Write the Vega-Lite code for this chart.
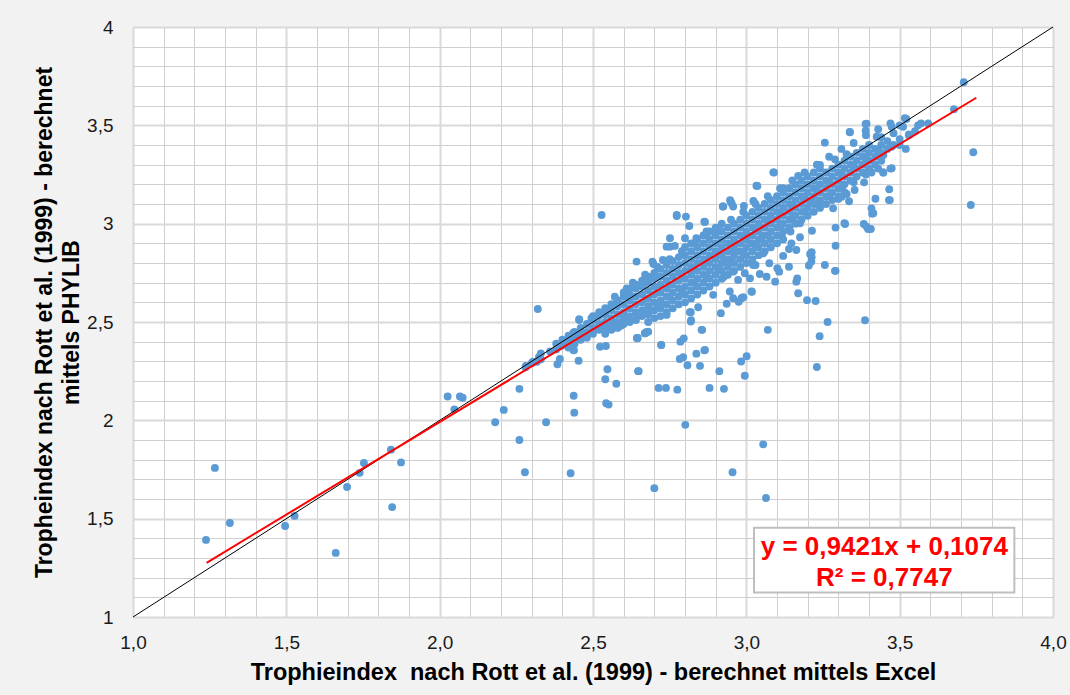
{
  "$schema": "https://vega.github.io/schema/vega-lite/v6.json",
  "autosize": {"type": "none"},
  "width": 920,
  "height": 590,
  "padding": {"left": 133, "top": 27, "right": 17, "bottom": 78},
  "background": "#f2f2f2",
  "config": {
    "view": {"fill": "white", "stroke": "#d0d0d0"},
    "font": "Liberation Sans"
  },
  "datasets": {
    "pts": [
      {"x":1.238,"y":1.392},{"x":1.267,"y":1.758},{"x":1.316,"y":1.478},{"x":1.496,"y":1.463},{"x":1.527,"y":1.514},{"x":1.661,"y":1.326},{"x":1.698,"y":1.661},{"x":1.739,"y":1.733},{"x":1.753,"y":1.783},{"x":1.841,"y":1.851},{"x":1.845,"y":1.559},{"x":1.874,"y":1.786},
      {"x":2.048,"y":2.056},{"x":2.026,"y":2.121},{"x":2.066,"y":2.121},{"x":2.075,"y":2.115},{"x":2.181,"y":1.99},{"x":2.209,"y":2.053},{"x":2.26,"y":2.16},{"x":2.26,"y":1.9},{"x":2.278,"y":1.736},{"x":2.32,"y":2.566},
      {"x":2.281,"y":2.276},{"x":2.304,"y":2.298},{"x":2.317,"y":2.298},{"x":2.324,"y":2.322},{"x":2.347,"y":1.99},{"x":2.384,"y":2.285},{"x":2.392,"y":2.312},{"x":2.39,"y":2.374},{"x":2.403,"y":2.392},{"x":2.414,"y":2.4},
      {"x":2.437,"y":2.125},{"x":2.439,"y":2.039},{"x":2.427,"y":1.731},{"x":2.438,"y":2.356},{"x":2.453,"y":2.303},{"x":2.458,"y":2.412},{"x":2.436,"y":2.446},{"x":2.455,"y":2.51},{"x":2.523,"y":2.374},{"x":2.542,"y":2.378},{"x":2.528,"y":2.468},
      {"x":2.547,"y":2.26},{"x":2.54,"y":2.209},{"x":2.543,"y":2.087},{"x":2.551,"y":2.08},{"x":2.576,"y":2.186},{"x":2.59,"y":2.483},{"x":2.643,"y":2.419},{"x":2.647,"y":2.25},{"x":2.528,"y":3.044},
      {"x":2.642,"y":2.807},{"x":2.694,"y":2.807},{"x":2.728,"y":2.815},{"x":2.751,"y":2.883},{"x":2.773,"y":3.044},{"x":2.803,"y":3.036},{"x":2.80,"y":2.926},{"x":2.863,"y":3.01},{"x":2.925,"y":3.087},{"x":2.952,"y":3.104},{"x":3.033,"y":3.193},
      {"x":2.74,"y":2.883},{"x":2.767,"y":2.887},{"x":2.837,"y":2.926},{"x":2.87,"y":2.96},{"x":2.903,"y":2.968},{"x":2.455,"y":2.514},{"x":2.495,"y":2.519},{"x":2.571,"y":2.629},{"x":2.61,"y":2.671},{"x":2.675,"y":2.73},
      {"x":2.436,"y":2.358},{"x":2.591,"y":2.481},{"x":2.644,"y":2.417},{"x":2.67,"y":2.443},{"x":2.68,"y":2.451},{"x":2.722,"y":2.383},{"x":2.74,"y":2.536},{"x":2.785,"y":2.4},{"x":2.796,"y":2.417},{"x":2.819,"y":2.55},{"x":2.819,"y":2.502},
      {"x":2.856,"y":2.46},{"x":2.865,"y":2.358},{"x":2.917,"y":2.545},{"x":2.957,"y":2.621},{"x":2.984,"y":2.621},{"x":3.017,"y":2.655},{"x":3.022,"y":2.79},{"x":2.973,"y":2.714},{"x":2.946,"y":2.655},{"x":2.892,"y":2.638},{"x":2.718,"y":2.578},{"x":2.686,"y":2.561},{"x":2.642,"y":2.544},
      {"x":3.389,"y":3.507},{"x":3.389,"y":3.473},{"x":3.338,"y":3.465},{"x":3.256,"y":3.412},{"x":3.088,"y":3.261},{"x":3.036,"y":3.192},{"x":2.923,"y":3.087},{"x":2.949,"y":3.112},{"x":2.992,"y":3.09},{"x":3.023,"y":3.115},{"x":3.12,"y":3.18},{"x":3.169,"y":3.243},{"x":3.24,"y":3.298},{"x":3.289,"y":3.327},{"x":3.327,"y":3.353},{"x":3.425,"y":3.442},{"x":3.474,"y":3.493},{"x":3.517,"y":3.536},{"x":3.511,"y":3.493},
      {"x":3.53,"y":3.454},{"x":3.474,"y":3.391},{"x":3.447,"y":3.349},{"x":3.474,"y":3.282},{"x":3.447,"y":3.26},{"x":3.408,"y":3.26},{"x":3.466,"y":3.175},{"x":3.468,"y":3.12},{"x":3.421,"y":3.127},{"x":3.408,"y":3.078},{"x":3.414,"y":3.053},{"x":3.383,"y":2.998},{"x":3.397,"y":2.973},{"x":3.32,"y":3.002},{"x":3.291,"y":2.98},{"x":3.291,"y":2.888},{"x":3.291,"y":2.76},
      {"x":3.384,"y":3.21},{"x":3.353,"y":3.171},{"x":3.327,"y":3.151},{"x":3.3,"y":3.126},{"x":3.283,"y":3.078},{"x":3.24,"y":3.087},{"x":3.208,"y":3.112},{"x":3.153,"y":3.039},{"x":3.175,"y":3.002},{"x":3.144,"y":2.96},{"x":3.175,"y":2.931},{"x":3.147,"y":2.9},{"x":3.139,"y":2.871},{"x":3.163,"y":2.866},{"x":3.12,"y":2.836},{"x":3.208,"y":2.846},{"x":3.212,"y":2.807},{"x":3.204,"y":2.787},{"x":3.256,"y":2.79},{"x":3.289,"y":2.76},
      {"x":3.139,"y":2.781},{"x":3.101,"y":2.773},{"x":3.075,"y":2.799},{"x":3.055,"y":2.849},{"x":3.03,"y":2.79},{"x":3.107,"y":2.756},{"x":3.044,"y":2.744},{"x":3.066,"y":2.73},{"x":3.012,"y":2.722},{"x":3.166,"y":2.722},{"x":3.116,"y":2.935},{"x":3.11,"y":2.985},{"x":3.053,"y":2.935},{"x":3.017,"y":2.9},{"x":2.957,"y":2.866},{"x":2.93,"y":2.815},{"x":2.957,"y":2.756},{"x":2.995,"y":2.748},{"x":2.927,"y":2.73},
      {"x":3.709,"y":3.719},{"x":3.677,"y":3.582},{"x":3.74,"y":3.363},{"x":3.732,"y":3.095},{"x":3.593,"y":3.51},{"x":3.522,"y":3.532},{"x":3.392,"y":3.508},{"x":3.337,"y":3.466},{"x":3.465,"y":3.12},{"x":3.41,"y":3.051},{"x":3.392,"y":2.985},{"x":3.406,"y":2.973},{"x":3.322,"y":2.998},{"x":3.213,"y":2.855},{"x":3.213,"y":2.829},{"x":3.446,"y":3.26},{"x":3.47,"y":3.28},{"x":3.335,"y":3.114},{"x":3.311,"y":3.137},{"x":3.214,"y":2.964},
      {"x":2.646,"y":2.419},{"x":2.649,"y":2.25},{"x":2.675,"y":2.449},{"x":2.669,"y":2.443},{"x":2.723,"y":2.383},{"x":2.714,"y":2.165},{"x":2.738,"y":2.165},{"x":2.775,"y":2.156},{"x":2.7,"y":1.655},{"x":2.783,"y":2.312},{"x":2.794,"y":2.321},{"x":2.808,"y":2.28},{"x":2.837,"y":2.339},{"x":2.849,"y":2.277},{"x":2.863,"y":2.356},{"x":2.801,"y":1.977},{"x":2.854,"y":2.46},{"x":2.816,"y":2.55},{"x":2.82,"y":2.509},{"x":2.843,"y":2.575},
      {"x":2.88,"y":2.165},{"x":2.912,"y":2.25},{"x":2.927,"y":2.16},{"x":2.936,"y":2.593},{"x":2.955,"y":1.736},{"x":2.983,"y":2.299},{"x":3.001,"y":2.326},{"x":2.995,"y":2.227},{"x":3.055,"y":1.878},{"x":3.064,"y":1.605},{"x":3.07,"y":2.46},{"x":3.018,"y":2.654},{"x":2.975,"y":2.603},{"x":2.99,"y":2.626},{"x":3.169,"y":2.646},{"x":3.198,"y":2.611},{"x":3.226,"y":2.607},{"x":3.265,"y":2.5},{"x":3.239,"y":2.428},{"x":3.23,"y":2.271},{"x":3.387,"y":2.509},{"x":3.163,"y":2.705},{"x":3.094,"y":2.705},
      {"x":3.09,"y":3.26},{"x":2.773,"y":3.039},{"x":2.814,"y":2.988},{"x":2.865,"y":3.009},{"x":2.751,"y":2.926},{"x":2.697,"y":2.795},{"x":2.957,"y":3.087},{"x":2.947,"y":3.12},{"x":3.53,"y":3.45},{"x":3.50,"y":3.40},{"x":3.55,"y":3.47},{"x":3.56,"y":3.50},{"x":3.52,"y":3.38},{"x":3.57,"y":3.51},
      {"x":2.63,"y":2.70},{"x":2.67,"y":2.74},{"x":2.71,"y":2.78},{"x":2.75,"y":2.82},{"x":2.79,"y":2.86},{"x":2.83,"y":2.90},{"x":2.87,"y":2.94},{"x":2.91,"y":2.98},{"x":2.95,"y":3.02},{"x":2.99,"y":3.06},{"x":3.03,"y":3.10},{"x":3.07,"y":3.14},{"x":3.11,"y":3.18},{"x":3.15,"y":3.22},{"x":3.19,"y":3.26},{"x":3.23,"y":3.30},{"x":3.27,"y":3.34},{"x":3.31,"y":3.38},{"x":3.35,"y":3.41},{"x":3.39,"y":3.45},{"x":3.43,"y":3.48},{"x":3.47,"y":3.51},
      {"x":2.71,"y":2.65},{"x":2.71,"y":2.59},{"x":2.75,"y":2.69},{"x":2.75,"y":2.63},{"x":2.79,"y":2.73},{"x":2.79,"y":2.66},{"x":2.83,"y":2.77},{"x":2.83,"y":2.70},{"x":2.87,"y":2.81},{"x":2.87,"y":2.73},{"x":2.91,"y":2.85},{"x":2.91,"y":2.77},{"x":2.95,"y":2.89},{"x":2.95,"y":2.81},{"x":2.99,"y":2.93},{"x":2.99,"y":2.85},
      {"x":3.03,"y":2.97},{"x":3.03,"y":2.89},{"x":3.07,"y":3.01},{"x":3.07,"y":2.94},{"x":3.11,"y":3.05},{"x":3.11,"y":2.98},{"x":3.15,"y":3.09},{"x":3.15,"y":3.02},{"x":3.19,"y":3.13},{"x":3.19,"y":3.06},{"x":3.23,"y":3.17},{"x":3.23,"y":3.10},{"x":3.27,"y":3.21},{"x":3.27,"y":3.14},{"x":3.31,"y":3.25},{"x":3.31,"y":3.18},{"x":3.35,"y":3.29},{"x":3.35,"y":3.21},{"x":3.39,"y":3.33},{"x":3.39,"y":3.25},{"x":3.43,"y":3.37},{"x":3.43,"y":3.28},
      {"x":2.28,"y":2.27},{"x":2.30,"y":2.29},{"x":2.33,"y":2.31},{"x":2.33,"y":2.34},{"x":2.36,"y":2.35},{"x":2.38,"y":2.36},{"x":2.38,"y":2.39},{"x":2.40,"y":2.38},{"x":2.40,"y":2.41},
      {"x":2.42,"y":2.40},{"x":2.42,"y":2.43},{"x":2.42,"y":2.37},{"x":2.44,"y":2.42},{"x":2.44,"y":2.45},{"x":2.44,"y":2.39},{"x":2.46,"y":2.44},{"x":2.46,"y":2.47},{"x":2.46,"y":2.41},{"x":2.48,"y":2.45},{"x":2.48,"y":2.49},{"x":2.48,"y":2.42},
      {"x":2.50,"y":2.47},{"x":2.50,"y":2.51},{"x":2.50,"y":2.44},{"x":2.50,"y":2.53},{"x":2.52,"y":2.49},{"x":2.52,"y":2.53},{"x":2.52,"y":2.46},{"x":2.52,"y":2.55},
      {"x":2.54,"y":2.50},{"x":2.54,"y":2.54},{"x":2.54,"y":2.47},{"x":2.54,"y":2.57},{"x":2.54,"y":2.44},{"x":2.56,"y":2.52},{"x":2.56,"y":2.56},{"x":2.56,"y":2.49},{"x":2.56,"y":2.59},{"x":2.56,"y":2.46},
      {"x":2.58,"y":2.54},{"x":2.58,"y":2.58},{"x":2.58,"y":2.50},{"x":2.58,"y":2.61},{"x":2.58,"y":2.47},
      {"x":2.60,"y":2.55},{"x":2.60,"y":2.59},{"x":2.60,"y":2.52},{"x":2.60,"y":2.63},{"x":2.60,"y":2.49},{"x":2.60,"y":2.65},
      {"x":2.62,"y":2.57},{"x":2.62,"y":2.61},{"x":2.62,"y":2.53},{"x":2.62,"y":2.64},{"x":2.62,"y":2.50},{"x":2.62,"y":2.67},
      {"x":2.64,"y":2.59},{"x":2.64,"y":2.63},{"x":2.64,"y":2.55},{"x":2.64,"y":2.67},{"x":2.64,"y":2.51},{"x":2.64,"y":2.69},
      {"x":2.66,"y":2.60},{"x":2.66,"y":2.64},{"x":2.66,"y":2.56},{"x":2.66,"y":2.68},{"x":2.66,"y":2.53},{"x":2.66,"y":2.71},
      {"x":2.68,"y":2.62},{"x":2.68,"y":2.66},{"x":2.68,"y":2.58},{"x":2.68,"y":2.70},{"x":2.68,"y":2.54},{"x":2.68,"y":2.73},{"x":2.68,"y":2.50},
      {"x":2.70,"y":2.64},{"x":2.70,"y":2.68},{"x":2.70,"y":2.60},{"x":2.70,"y":2.72},{"x":2.70,"y":2.56},{"x":2.70,"y":2.75},{"x":2.70,"y":2.52},
      {"x":2.72,"y":2.65},{"x":2.72,"y":2.69},{"x":2.72,"y":2.61},{"x":2.72,"y":2.73},{"x":2.72,"y":2.57},{"x":2.72,"y":2.77},{"x":2.72,"y":2.53},
      {"x":2.74,"y":2.67},{"x":2.74,"y":2.71},{"x":2.74,"y":2.63},{"x":2.74,"y":2.75},{"x":2.74,"y":2.59},{"x":2.74,"y":2.79},{"x":2.74,"y":2.55},
      {"x":2.76,"y":2.69},{"x":2.76,"y":2.73},{"x":2.76,"y":2.65},{"x":2.76,"y":2.77},{"x":2.76,"y":2.61},{"x":2.76,"y":2.81},{"x":2.76,"y":2.57},
      {"x":2.78,"y":2.71},{"x":2.78,"y":2.75},{"x":2.78,"y":2.67},{"x":2.78,"y":2.79},{"x":2.78,"y":2.63},{"x":2.78,"y":2.83},{"x":2.78,"y":2.59},
      {"x":2.80,"y":2.72},{"x":2.80,"y":2.76},{"x":2.80,"y":2.68},{"x":2.80,"y":2.80},{"x":2.80,"y":2.64},{"x":2.80,"y":2.84},{"x":2.80,"y":2.60},{"x":2.80,"y":2.88},
      {"x":2.82,"y":2.74},{"x":2.82,"y":2.78},{"x":2.82,"y":2.70},{"x":2.82,"y":2.82},{"x":2.82,"y":2.66},{"x":2.82,"y":2.86},{"x":2.82,"y":2.62},{"x":2.82,"y":2.90},
      {"x":2.84,"y":2.76},{"x":2.84,"y":2.80},{"x":2.84,"y":2.72},{"x":2.84,"y":2.84},{"x":2.84,"y":2.68},{"x":2.84,"y":2.88},{"x":2.84,"y":2.64},{"x":2.84,"y":2.92},
      {"x":2.86,"y":2.78},{"x":2.86,"y":2.82},{"x":2.86,"y":2.74},{"x":2.86,"y":2.86},{"x":2.86,"y":2.70},{"x":2.86,"y":2.90},{"x":2.86,"y":2.66},{"x":2.86,"y":2.94},
      {"x":2.88,"y":2.80},{"x":2.88,"y":2.84},{"x":2.88,"y":2.76},{"x":2.88,"y":2.88},{"x":2.88,"y":2.72},{"x":2.88,"y":2.92},{"x":2.88,"y":2.68},{"x":2.88,"y":2.96},
      {"x":2.90,"y":2.82},{"x":2.90,"y":2.86},{"x":2.90,"y":2.78},{"x":2.90,"y":2.90},{"x":2.90,"y":2.74},{"x":2.90,"y":2.94},{"x":2.90,"y":2.70},{"x":2.90,"y":2.98},
      {"x":2.92,"y":2.84},{"x":2.92,"y":2.88},{"x":2.92,"y":2.80},{"x":2.92,"y":2.92},{"x":2.92,"y":2.76},{"x":2.92,"y":2.96},{"x":2.92,"y":2.72},{"x":2.92,"y":3.00},
      {"x":2.94,"y":2.86},{"x":2.94,"y":2.90},{"x":2.94,"y":2.82},{"x":2.94,"y":2.94},{"x":2.94,"y":2.78},{"x":2.94,"y":2.98},{"x":2.94,"y":2.74},
      {"x":2.96,"y":2.88},{"x":2.96,"y":2.92},{"x":2.96,"y":2.84},{"x":2.96,"y":2.96},{"x":2.96,"y":2.80},{"x":2.96,"y":3.00},{"x":2.96,"y":2.76},
      {"x":2.98,"y":2.90},{"x":2.98,"y":2.94},{"x":2.98,"y":2.86},{"x":2.98,"y":2.98},{"x":2.98,"y":2.82},{"x":2.98,"y":3.02},{"x":2.98,"y":2.78},
      {"x":3.00,"y":2.92},{"x":3.00,"y":2.96},{"x":3.00,"y":2.88},{"x":3.00,"y":3.00},{"x":3.00,"y":2.84},{"x":3.00,"y":3.04},{"x":3.00,"y":2.80},
      {"x":3.02,"y":2.94},{"x":3.02,"y":2.98},{"x":3.02,"y":2.90},{"x":3.02,"y":3.02},{"x":3.02,"y":2.86},{"x":3.02,"y":3.06},{"x":3.02,"y":2.82},
      {"x":3.04,"y":2.96},{"x":3.04,"y":3.00},{"x":3.04,"y":2.92},{"x":3.04,"y":3.04},{"x":3.04,"y":2.88},{"x":3.04,"y":3.08},{"x":3.04,"y":2.84},
      {"x":3.06,"y":2.98},{"x":3.06,"y":3.02},{"x":3.06,"y":2.94},{"x":3.06,"y":3.06},{"x":3.06,"y":2.90},{"x":3.06,"y":3.10},{"x":3.06,"y":2.86},
      {"x":3.08,"y":3.00},{"x":3.08,"y":3.04},{"x":3.08,"y":2.96},{"x":3.08,"y":3.08},{"x":3.08,"y":2.92},{"x":3.08,"y":3.12},{"x":3.08,"y":2.88},
      {"x":3.10,"y":3.02},{"x":3.10,"y":3.06},{"x":3.10,"y":2.98},{"x":3.10,"y":3.10},{"x":3.10,"y":2.94},{"x":3.10,"y":3.14},{"x":3.10,"y":2.90},
      {"x":3.12,"y":3.04},{"x":3.12,"y":3.08},{"x":3.12,"y":3.00},{"x":3.12,"y":3.12},{"x":3.12,"y":2.96},{"x":3.12,"y":3.16},{"x":3.12,"y":2.92},
      {"x":3.14,"y":3.06},{"x":3.14,"y":3.10},{"x":3.14,"y":3.02},{"x":3.14,"y":3.14},{"x":3.14,"y":2.98},{"x":3.14,"y":3.18},
      {"x":3.16,"y":3.08},{"x":3.16,"y":3.12},{"x":3.16,"y":3.04},{"x":3.16,"y":3.16},{"x":3.16,"y":3.00},{"x":3.16,"y":3.20},
      {"x":3.18,"y":3.10},{"x":3.18,"y":3.14},{"x":3.18,"y":3.06},{"x":3.18,"y":3.18},{"x":3.18,"y":3.02},{"x":3.18,"y":3.22},
      {"x":3.20,"y":3.12},{"x":3.20,"y":3.16},{"x":3.20,"y":3.08},{"x":3.20,"y":3.20},{"x":3.20,"y":3.04},{"x":3.20,"y":3.24},
      {"x":3.22,"y":3.14},{"x":3.22,"y":3.18},{"x":3.22,"y":3.10},{"x":3.22,"y":3.22},{"x":3.22,"y":3.06},{"x":3.22,"y":3.26},
      {"x":3.24,"y":3.16},{"x":3.24,"y":3.20},{"x":3.24,"y":3.12},{"x":3.24,"y":3.24},{"x":3.24,"y":3.08},{"x":3.24,"y":3.28},
      {"x":3.26,"y":3.18},{"x":3.26,"y":3.22},{"x":3.26,"y":3.14},{"x":3.26,"y":3.26},{"x":3.26,"y":3.10},
      {"x":3.28,"y":3.20},{"x":3.28,"y":3.24},{"x":3.28,"y":3.16},{"x":3.28,"y":3.28},{"x":3.28,"y":3.12},
      {"x":3.30,"y":3.22},{"x":3.30,"y":3.26},{"x":3.30,"y":3.18},{"x":3.30,"y":3.30},{"x":3.30,"y":3.14},
      {"x":3.32,"y":3.24},{"x":3.32,"y":3.28},{"x":3.32,"y":3.20},{"x":3.32,"y":3.32},{"x":3.32,"y":3.16},
      {"x":3.34,"y":3.26},{"x":3.34,"y":3.30},{"x":3.34,"y":3.22},{"x":3.34,"y":3.34},
      {"x":3.36,"y":3.28},{"x":3.36,"y":3.32},{"x":3.36,"y":3.24},{"x":3.36,"y":3.36},
      {"x":3.38,"y":3.30},{"x":3.38,"y":3.34},{"x":3.38,"y":3.26},{"x":3.38,"y":3.38},
      {"x":3.40,"y":3.32},{"x":3.40,"y":3.36},{"x":3.40,"y":3.28},{"x":3.40,"y":3.40},
      {"x":3.42,"y":3.34},{"x":3.42,"y":3.38},{"x":3.42,"y":3.30},
      {"x":3.44,"y":3.36},{"x":3.44,"y":3.40},{"x":3.44,"y":3.32},{"x":3.44,"y":3.44},
      {"x":3.46,"y":3.38},{"x":3.46,"y":3.42},{"x":3.48,"y":3.40},{"x":3.48,"y":3.46},{"x":3.50,"y":3.43},{"x":3.50,"y":3.50}
    ],
    "diag": [{"x": 1, "y": 1}, {"x": 4, "y": 4}],
    "fit": [{"x": 1.24, "y": 1.2756}, {"x": 3.75, "y": 3.6403}]
  },
  "layer": [
    {
      "encoding": {
        "x": {
          "field": "x", "type": "quantitative",
          "scale": {"domain": [1, 4], "nice": false, "zero": false},
          "axis": {
            "title": "Trophieindex\u00a0 nach Rott et al. (1999) - berechnet mittels Excel",
            "titleFont": "Liberation Sans", "titleFontSize": 23.5, "titleFontWeight": "bold", "titleColor": "#000000",
            "titleY": 62, "titleBaseline": "alphabetic",
            "values": [1,1.1,1.2,1.3,1.4,1.5,1.6,1.7,1.8,1.9,2,2.1,2.2,2.3,2.4,2.5,2.6,2.7,2.8,2.9,3,3.1,3.2,3.3,3.4,3.5,3.6,3.7,3.8,3.9,4],
            "labelExpr": "abs(datum.value*2 - round(datum.value*2)) < 0.001 ? replace(format(datum.value, '.1f'), '.', ',') : ''",
            "labelFont": "Liberation Sans", "labelFontSize": 19, "labelColor": "#1a1a1a",
            "labelPadding": 16, "labelFlush": false, "labelOverlap": false,
            "ticks": false, "tickSize": 0, "domain": false,
            "grid": true,
            "gridColor": {"condition": {"test": "abs(datum.value*2 - round(datum.value*2)) < 0.001", "value": "#d9d9d9"}, "value": "#cfcfcf"},
            "gridWidth": {"condition": {"test": "abs(datum.value*2 - round(datum.value*2)) < 0.001", "value": 2}, "value": 1}
          }
        },
        "y": {
          "field": "y", "type": "quantitative",
          "scale": {"domain": [1, 4], "nice": false, "zero": false},
          "axis": {
            "title": ["Tropheindex nach Rott et al. (1999) - berechnet", "mittels PHYLIB"],
            "titleFont": "Liberation Sans", "titleFontSize": 23, "titleFontWeight": "bold", "titleColor": "#000000",
            "titleX": -82, "titleBaseline": "alphabetic", "titleLineHeight": 27,
            "values": [1,1.1,1.2,1.3,1.4,1.5,1.6,1.7,1.8,1.9,2,2.1,2.2,2.3,2.4,2.5,2.6,2.7,2.8,2.9,3,3.1,3.2,3.3,3.4,3.5,3.6,3.7,3.8,3.9,4],
            "labelExpr": "abs(datum.value*2 - round(datum.value*2)) < 0.001 ? replace(format(datum.value, '.1~f'), '.', ',') : ''",
            "labelFont": "Liberation Sans", "labelFontSize": 19, "labelColor": "#1a1a1a",
            "labelPadding": 20, "labelFlush": false, "labelOverlap": false,
            "ticks": false, "tickSize": 0, "domain": false,
            "grid": true,
            "gridColor": {"condition": {"test": "abs(datum.value*2 - round(datum.value*2)) < 0.001", "value": "#d9d9d9"}, "value": "#cfcfcf"},
            "gridWidth": {"condition": {"test": "abs(datum.value*2 - round(datum.value*2)) < 0.001", "value": 2}, "value": 1}
          }
        }
      },
      "layer": [
        {
          "data": {"name": "pts"},
          "mark": {"type": "circle", "size": 62, "color": "#5B9BD5", "opacity": 1}
        },
        {
          "data": {"name": "diag"},
          "mark": {"type": "line", "color": "#000000", "strokeWidth": 1}
        },
        {
          "data": {"name": "fit"},
          "mark": {"type": "line", "color": "#ff0000", "strokeWidth": 2}
        }
      ]
    },
    {
      "data": {"values": [{}]},
      "mark": {"type": "rect", "fill": "white", "stroke": "#bfbfbf", "strokeWidth": 2},
      "encoding": {
        "x": {
          "datum": 3.025, "type": "quantitative",
          "scale": {"domain": [1, 4], "nice": false, "zero": false},
          "axis": {
            "title": "Trophieindex\u00a0 nach Rott et al. (1999) - berechnet mittels Excel",
            "titleFont": "Liberation Sans", "titleFontSize": 23.5, "titleFontWeight": "bold", "titleColor": "#000000",
            "titleY": 62, "titleBaseline": "alphabetic",
            "values": [1,1.1,1.2,1.3,1.4,1.5,1.6,1.7,1.8,1.9,2,2.1,2.2,2.3,2.4,2.5,2.6,2.7,2.8,2.9,3,3.1,3.2,3.3,3.4,3.5,3.6,3.7,3.8,3.9,4],
            "labelExpr": "abs(datum.value*2 - round(datum.value*2)) < 0.001 ? replace(format(datum.value, '.1f'), '.', ',') : ''",
            "labelFont": "Liberation Sans", "labelFontSize": 19, "labelColor": "#1a1a1a",
            "labelPadding": 16, "labelFlush": false, "labelOverlap": false,
            "ticks": false, "tickSize": 0, "domain": false,
            "grid": true,
            "gridColor": {"condition": {"test": "abs(datum.value*2 - round(datum.value*2)) < 0.001", "value": "#d9d9d9"}, "value": "#cfcfcf"},
            "gridWidth": {"condition": {"test": "abs(datum.value*2 - round(datum.value*2)) < 0.001", "value": 2}, "value": 1}
          }
        },
        "x2": {"datum": 3.874},
        "y": {
          "datum": 1.454, "type": "quantitative",
          "scale": {"domain": [1, 4], "nice": false, "zero": false},
          "axis": {
            "title": ["Tropheindex nach Rott et al. (1999) - berechnet", "mittels PHYLIB"],
            "titleFont": "Liberation Sans", "titleFontSize": 23, "titleFontWeight": "bold", "titleColor": "#000000",
            "titleX": -82, "titleBaseline": "alphabetic", "titleLineHeight": 27,
            "values": [1,1.1,1.2,1.3,1.4,1.5,1.6,1.7,1.8,1.9,2,2.1,2.2,2.3,2.4,2.5,2.6,2.7,2.8,2.9,3,3.1,3.2,3.3,3.4,3.5,3.6,3.7,3.8,3.9,4],
            "labelExpr": "abs(datum.value*2 - round(datum.value*2)) < 0.001 ? replace(format(datum.value, '.1~f'), '.', ',') : ''",
            "labelFont": "Liberation Sans", "labelFontSize": 19, "labelColor": "#1a1a1a",
            "labelPadding": 20, "labelFlush": false, "labelOverlap": false,
            "ticks": false, "tickSize": 0, "domain": false,
            "grid": true,
            "gridColor": {"condition": {"test": "abs(datum.value*2 - round(datum.value*2)) < 0.001", "value": "#d9d9d9"}, "value": "#cfcfcf"},
            "gridWidth": {"condition": {"test": "abs(datum.value*2 - round(datum.value*2)) < 0.001", "value": 2}, "value": 1}
          }
        },
        "y2": {"datum": 1.124}
      }
    },
    {
      "data": {"values": [{}]},
      "mark": {"type": "text", "font": "Liberation Sans", "fontSize": 26, "fontWeight": "bold", "color": "#ff0000", "align": "center", "baseline": "alphabetic", "lineHeight": 31},
      "encoding": {
        "x": {
          "datum": 3.45, "type": "quantitative",
          "scale": {"domain": [1, 4], "nice": false, "zero": false},
          "axis": {
            "title": "Trophieindex\u00a0 nach Rott et al. (1999) - berechnet mittels Excel",
            "titleFont": "Liberation Sans", "titleFontSize": 23.5, "titleFontWeight": "bold", "titleColor": "#000000",
            "titleY": 62, "titleBaseline": "alphabetic",
            "values": [1,1.1,1.2,1.3,1.4,1.5,1.6,1.7,1.8,1.9,2,2.1,2.2,2.3,2.4,2.5,2.6,2.7,2.8,2.9,3,3.1,3.2,3.3,3.4,3.5,3.6,3.7,3.8,3.9,4],
            "labelExpr": "abs(datum.value*2 - round(datum.value*2)) < 0.001 ? replace(format(datum.value, '.1f'), '.', ',') : ''",
            "labelFont": "Liberation Sans", "labelFontSize": 19, "labelColor": "#1a1a1a",
            "labelPadding": 16, "labelFlush": false, "labelOverlap": false,
            "ticks": false, "tickSize": 0, "domain": false,
            "grid": true,
            "gridColor": {"condition": {"test": "abs(datum.value*2 - round(datum.value*2)) < 0.001", "value": "#d9d9d9"}, "value": "#cfcfcf"},
            "gridWidth": {"condition": {"test": "abs(datum.value*2 - round(datum.value*2)) < 0.001", "value": 2}, "value": 1}
          }
        },
        "y": {
          "datum": 1.315, "type": "quantitative",
          "scale": {"domain": [1, 4], "nice": false, "zero": false},
          "axis": {
            "title": ["Tropheindex nach Rott et al. (1999) - berechnet", "mittels PHYLIB"],
            "titleFont": "Liberation Sans", "titleFontSize": 23, "titleFontWeight": "bold", "titleColor": "#000000",
            "titleX": -82, "titleBaseline": "alphabetic", "titleLineHeight": 27,
            "values": [1,1.1,1.2,1.3,1.4,1.5,1.6,1.7,1.8,1.9,2,2.1,2.2,2.3,2.4,2.5,2.6,2.7,2.8,2.9,3,3.1,3.2,3.3,3.4,3.5,3.6,3.7,3.8,3.9,4],
            "labelExpr": "abs(datum.value*2 - round(datum.value*2)) < 0.001 ? replace(format(datum.value, '.1~f'), '.', ',') : ''",
            "labelFont": "Liberation Sans", "labelFontSize": 19, "labelColor": "#1a1a1a",
            "labelPadding": 20, "labelFlush": false, "labelOverlap": false,
            "ticks": false, "tickSize": 0, "domain": false,
            "grid": true,
            "gridColor": {"condition": {"test": "abs(datum.value*2 - round(datum.value*2)) < 0.001", "value": "#d9d9d9"}, "value": "#cfcfcf"},
            "gridWidth": {"condition": {"test": "abs(datum.value*2 - round(datum.value*2)) < 0.001", "value": 2}, "value": 1}
          }
        },
        "text": {"value": ["y = 0,9421x + 0,1074", "R² = 0,7747"]}
      }
    }
  ]
}
